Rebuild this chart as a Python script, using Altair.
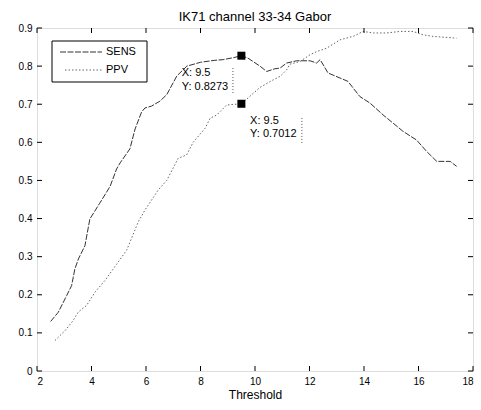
import altair as alt
import pandas as pd

# ---- data ----
sens_x = [2.5, 2.78, 3.09, 3.27, 3.39, 3.52, 3.76, 3.94, 4.3, 4.68, 4.92, 5.05, 5.41, 5.6, 5.84, 5.96,
          6.2, 6.51, 6.76, 7.13, 7.5, 8.0, 8.5, 8.83, 9.2, 9.5, 9.74, 10.18, 10.43, 10.73, 10.92,
          11.16, 11.53, 12.02, 12.26, 12.39, 12.68, 13.41, 13.85, 14.22, 14.7, 15.43, 15.93,
          16.3, 16.67, 17.16, 17.4]
sens_y = [0.13, 0.154, 0.198, 0.224, 0.268, 0.294, 0.329, 0.399, 0.44, 0.484, 0.53, 0.546, 0.583, 0.635, 0.68, 0.69,
          0.695, 0.708, 0.725, 0.774, 0.80, 0.81, 0.815, 0.817, 0.822, 0.8273, 0.821, 0.80, 0.786, 0.793, 0.795,
          0.808, 0.814, 0.814, 0.808, 0.817, 0.782, 0.76, 0.72, 0.703, 0.672, 0.629, 0.606,
          0.576, 0.55, 0.55, 0.537]

ppv_x = [2.66, 3.03, 3.3, 3.52, 3.82, 4.13, 4.5, 4.92, 5.29, 5.72, 5.96, 6.44, 6.76, 7.18, 7.49,
         7.73, 8.17, 8.35, 8.6, 8.96, 9.5, 9.8, 10.18, 10.67, 10.92, 11.16, 11.28, 11.65, 12.02,
         12.26, 12.63, 13.12, 13.6, 13.97, 14.34, 14.83, 15.32, 15.8, 16.17, 16.54, 17.27, 17.4]
ppv_y = [0.08, 0.106, 0.13, 0.155, 0.172, 0.207, 0.238, 0.28, 0.317, 0.392, 0.422, 0.474, 0.5, 0.558, 0.567,
         0.6, 0.637, 0.663, 0.672, 0.698, 0.7012, 0.72, 0.744, 0.764, 0.773, 0.79, 0.805, 0.812, 0.83,
         0.838, 0.847, 0.869, 0.878, 0.891, 0.887, 0.887, 0.891, 0.891, 0.882, 0.878, 0.874, 0.873]

tip_x = [9.5, 9.5]
tip_y = [0.8273, 0.7012]
tip_line1 = ["X: 9.5", "X: 9.5"]
tip_line2 = ["Y: 0.8273", "Y: 0.7012"]
tip_text_x = [7.31, 9.82]
tip_text_y1 = [0.782, 0.656]
tip_text_y2 = [0.744, 0.623]
tip_edge_x = [9.19, 11.72]
tip_edge_y1 = [0.795, 0.664]
tip_edge_y2 = [0.729, 0.598]

x_ticks = [2, 4, 6, 8, 10, 12, 14, 16, 18]
y_ticks = [0, 0.1, 0.2, 0.3, 0.4, 0.5, 0.6, 0.7, 0.8, 0.9]

W, H = 436, 343
FONT = "Liberation Sans"

xs = alt.Scale(domain=[2, 18], nice=False, zero=False)
ys = alt.Scale(domain=[0, 0.9], nice=False, zero=False)

xaxis = alt.Axis(values=x_ticks, ticks=False, domain=False, grid=False, labelOverlap=False,
                 labelPadding=5, titlePadding=3, format="d",
                 titleFontWeight="normal", titleFont=FONT, titleFontSize=12)
yaxis = alt.Axis(values=y_ticks, ticks=False, domain=False, grid=False, labelOverlap=False,
                 labelPadding=5,
                 labelExpr="datum.value == 0 ? '0' : format(datum.value, '.1f')")


def X(f):
    return alt.X(f, scale=xs, axis=xaxis, title="Threshold")


def Y(f):
    return alt.Y(f, scale=ys, axis=yaxis, title=None)


sens_df = pd.DataFrame({"x": sens_x, "y": sens_y})
ppv_df = pd.DataFrame({"x": ppv_x, "y": ppv_y})
tips_df = pd.DataFrame({"x": tip_x, "y": tip_y, "l1": tip_line1, "l2": tip_line2,
                        "tx": tip_text_x, "ty1": tip_text_y1, "ty2": tip_text_y2,
                        "ex": tip_edge_x, "ey1": tip_edge_y1, "ey2": tip_edge_y2})
xt_df = pd.DataFrame({"v": x_ticks})
yt_df = pd.DataFrame({"v": y_ticks})

sens = alt.Chart(sens_df).mark_line(color="#333333", strokeWidth=1, strokeDash=[6, 1.5]).encode(
    x=X("x:Q"), y=Y("y:Q"))
ppv = alt.Chart(ppv_df).mark_line(color="#666666", strokeWidth=1, strokeDash=[1.5, 2]).encode(
    x=X("x:Q"), y=Y("y:Q"))

tips = alt.Chart(tips_df).mark_square(size=64, color="black", opacity=1).encode(x=X("x:Q"), y=Y("y:Q"))
t1 = alt.Chart(tips_df).mark_text(align="left", baseline="middle", fontSize=11, font=FONT,
                                  color="black").encode(x=X("tx:Q"), y=Y("ty1:Q"), text="l1:N")
t2 = alt.Chart(tips_df).mark_text(align="left", baseline="middle", fontSize=11, font=FONT,
                                  color="black").encode(x=X("tx:Q"), y=Y("ty2:Q"), text="l2:N")
edges = alt.Chart(tips_df).mark_rule(color="#555555", strokeDash=[1, 2], strokeWidth=1).encode(
    x=X("ex:Q"), y=Y("ey1:Q"), y2="ey2:Q")

# inward ticks
tick_style = dict(color="black", strokeWidth=1)
xb = alt.Chart(xt_df).mark_rule(**tick_style).encode(x=X("v:Q"), y=alt.value(H), y2=alt.value(H - 5))
xtop = alt.Chart(xt_df).mark_rule(**tick_style).encode(x=X("v:Q"), y=alt.value(0), y2=alt.value(5))
yl = alt.Chart(yt_df).mark_rule(**tick_style).encode(y=Y("v:Q"), x=alt.value(0), x2=alt.value(5))
yr = alt.Chart(yt_df).mark_rule(**tick_style).encode(y=Y("v:Q"), x=alt.value(W), x2=alt.value(W - 5))

# legend
one = pd.DataFrame({"a": [0]})
leg_box = alt.Chart(one).mark_rect(fill="white", stroke="black", strokeWidth=1).encode(
    x=alt.value(15), x2=alt.value(110), y=alt.value(13), y2=alt.value(54))
leg_sens = alt.Chart(one).mark_rule(color="#333333", strokeDash=[6, 1.5]).encode(
    x=alt.value(23), x2=alt.value(65), y=alt.value(24))
leg_ppv = alt.Chart(one).mark_rule(color="#666666", strokeDash=[1.5, 2]).encode(
    x=alt.value(28), x2=alt.value(65), y=alt.value(42))
leg_t1 = alt.Chart(pd.DataFrame({"t": ["SENS"]})).mark_text(align="left", baseline="middle", fontSize=11,
                                                           font=FONT, color="black").encode(
    x=alt.value(69), y=alt.value(24), text="t:N")
leg_t2 = alt.Chart(pd.DataFrame({"t": ["PPV"]})).mark_text(align="left", baseline="middle", fontSize=11,
                                                          font=FONT, color="black").encode(
    x=alt.value(69), y=alt.value(42), text="t:N")

chart = alt.layer(sens, ppv, edges, tips, t1, t2, xb, xtop, yl, yr,
                  leg_box, leg_sens, leg_ppv, leg_t1, leg_t2).properties(
    width=W, height=H,
    title=alt.Title("IK71 channel 33-34 Gabor", fontSize=13, font=FONT, fontWeight="normal",
                    color="black", anchor="middle", offset=4, dy=5),
    autosize=alt.AutoSizeParams(type="none"),
    padding={"left": 37, "top": 28, "right": 8, "bottom": 39},
).configure_view(stroke="black", strokeWidth=1).configure_axis(
    labelFont=FONT, labelFontSize=11, labelColor="black", titleFont=FONT, titleFontSize=12,
    titleColor="black", titleFontWeight="normal", labelOverlap=False
).configure(background="white")

chart.save("out.html", embed_options={"renderer": "svg", "actions": False})
